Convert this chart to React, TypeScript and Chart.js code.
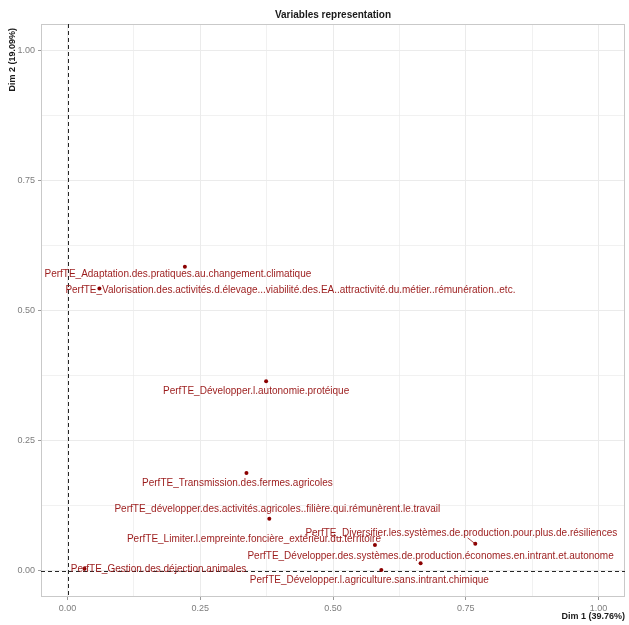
import React, { useEffect, useRef } from 'react';
import { Chart, registerables } from 'chart.js';

Chart.register(...registerables);

const chartTitle = 'Variables representation';
const xAxisTitle = 'Dim 1 (39.76%)';
const yAxisTitle = 'Dim 2 (19.09%)';

const variableNames = [
  'PerfTE_Adaptation.des.pratiques.au.changement.climatique',
  'PerfTE_Valorisation.des.activités.d.élevage...viabilité.des.EA..attractivité.du.métier..rémunération..etc.',
  'PerfTE_Développer.l.autonomie.protéique',
  'PerfTE_Transmission.des.fermes.agricoles',
  'PerfTE_développer.des.activités.agricoles..filière.qui.rémunèrent.le.travail',
  'PerfTE_Limiter.l.empreinte.foncière_extérieur.du.territoire',
  'PerfTE_Diversifier.les.systèmes.de.production.pour.plus.de.résiliences',
  'PerfTE_Développer.des.systèmes.de.production.économes.en.intrant.et.autonome',
  'PerfTE_Développer.l.agriculture.sans.intrant.chimique',
  'PerfTE_Gestion.des.déjection.animales',
];

const dim1 = [0.221, 0.06, 0.374, 0.337, 0.38, 0.579, 0.768, 0.665, 0.591, 0.032];
const dim2 = [0.584, 0.542, 0.364, 0.188, 0.1, 0.05, 0.052, 0.015, 0.002, 0.004];

// repelled label placement (pixel offset of label centre from its point)
const labelDx = [-7, 191, -10, -9, 8, -121, -14, 10, -12, 74];
const labelDy = [8, 2, 10, 10, -10, -6, -11, -7, 10, 0];
const labelSegment = [false, false, false, false, false, false, true, false, false, false];

const majorTicks = [0, 0.25, 0.5, 0.75, 1];
const minorTicks = [0.125, 0.375, 0.625, 0.875];

const LABEL_COLOR = '#9b1b1b';
const POINT_COLOR = '#8B0000';
const GRID_COLOR = '#ebebeb';
const TICK_TEXT = '#7d7d7d';

const isMajor = (v: number) => majorTicks.some((m) => Math.abs(m - v) < 1e-9);

const overlayPlugin = {
  id: 'overlay',
  beforeDatasetsDraw(chart: any) {
    const { ctx, chartArea, scales } = chart;
    ctx.save();
    ctx.strokeStyle = '#c9c9c9';
    ctx.lineWidth = 1;
    ctx.strokeRect(chartArea.left + 0.5, chartArea.top + 0.5, chartArea.right - chartArea.left - 1, chartArea.bottom - chartArea.top - 1);
    const x0 = Math.round(scales.x.getPixelForValue(0)) + 0.5;
    const y0 = Math.round(scales.y.getPixelForValue(0)) + 0.5;
    ctx.strokeStyle = '#262626';
    ctx.setLineDash([4, 3]);
    ctx.beginPath();
    ctx.moveTo(x0, chartArea.top);
    ctx.lineTo(x0, chartArea.bottom);
    ctx.moveTo(chartArea.left, y0);
    ctx.lineTo(chartArea.right, y0);
    ctx.stroke();
    ctx.restore();
  },
  afterDatasetsDraw(chart: any) {
    const { ctx, scales } = chart;
    ctx.save();
    ctx.font = '10px "Liberation Sans", Arial, sans-serif';
    ctx.textAlign = 'center';
    ctx.textBaseline = 'middle';
    variableNames.forEach((name, i) => {
      const px = scales.x.getPixelForValue(dim1[i]);
      const py = scales.y.getPixelForValue(dim2[i]);
      const cx = px + labelDx[i];
      const cy = py + labelDy[i];
      if (labelSegment[i]) {
        const w = ctx.measureText(name).width / 2;
        const h = 5;
        const dx = px - cx;
        const dy = py - cy;
        const t = Math.min(Math.abs(w / (dx || 1e-9)), Math.abs(h / (dy || 1e-9)));
        ctx.strokeStyle = LABEL_COLOR;
        ctx.lineWidth = 0.8;
        ctx.beginPath();
        ctx.moveTo(cx + dx * t, cy + dy * t);
        ctx.lineTo(px, py);
        ctx.stroke();
      }
      ctx.fillStyle = LABEL_COLOR;
      ctx.fillText(name, cx, cy);
    });
    ctx.restore();
  },
  afterDraw(chart: any) {
    const { ctx, chartArea } = chart;
    ctx.save();
    ctx.fillStyle = '#1a1a1a';
    ctx.font = 'bold 10px "Liberation Sans", Arial, sans-serif';
    ctx.textAlign = 'center';
    ctx.textBaseline = 'middle';
    ctx.fillText(chartTitle, (chartArea.left + chartArea.right) / 2, 15);
    ctx.font = 'bold 9px "Liberation Sans", Arial, sans-serif';
    ctx.textAlign = 'right';
    ctx.fillText(xAxisTitle, chartArea.right, 617);
    ctx.translate(13, chartArea.top + 4);
    ctx.rotate(-Math.PI / 2);
    ctx.textAlign = 'right';
    ctx.fillText(yAxisTitle, 0, 0);
    ctx.restore();
  },
};

const scaleCommon = (fit: (s: any) => void) => ({
  type: 'linear' as const,
  min: -0.05,
  max: 1.05,
  afterBuildTicks: (scale: any) => {
    scale.ticks = [...majorTicks, ...minorTicks].sort((a, b) => a - b).map((v) => ({ value: v }));
  },
  afterFit: fit,
  ticks: {
    autoSkip: false,
    maxRotation: 0,
    padding: 3,
    color: TICK_TEXT,
    font: { size: 9, family: '"Liberation Sans", Arial, sans-serif' },
    callback: (v: any) => (isMajor(Number(v)) ? Number(v).toFixed(2) : ''),
  },
  grid: {
    color: GRID_COLOR,
    lineWidth: (c: any) => (c.tick && isMajor(c.tick.value) ? 1 : 0.7),
    tickLength: 3,
    tickColor: (c: any) => (c.tick && isMajor(c.tick.value) ? '#9a9a9a' : 'rgba(0,0,0,0)'),
  },
  border: { display: false },
});

export default function App() {
  const ref = useRef<HTMLCanvasElement | null>(null);
  useEffect(() => {
    document.body.style.margin = '0';
    if (!ref.current) return;
    const chart = new Chart(ref.current, {
      type: 'scatter',
      data: {
        datasets: [
          {
            label: 'variables',
            data: dim1.map((x, i) => ({ x, y: dim2[i] })),
            pointRadius: 2,
            pointBackgroundColor: POINT_COLOR,
            pointBorderWidth: 0,
          },
        ],
      },
      options: {
        responsive: false,
        animation: false,
        devicePixelRatio: 1,
        layout: { padding: { top: 24, right: 2, left: 0, bottom: 0 } },
        plugins: { legend: { display: false }, tooltip: { enabled: false }, title: { display: false } },
        scales: {
          x: { ...scaleCommon((s: any) => { s.height = 28; }), position: 'bottom' },
          y: { ...scaleCommon((s: any) => { s.width = 41; }), position: 'left' },
        },
      },
      plugins: [overlayPlugin],
    });
    return () => chart.destroy();
  }, []);
  return (
    <div style={{ width: 629, height: 625, background: '#fff' }}>
      <canvas ref={ref} width={629} height={625} style={{ display: 'block' }} />
    </div>
  );
}
